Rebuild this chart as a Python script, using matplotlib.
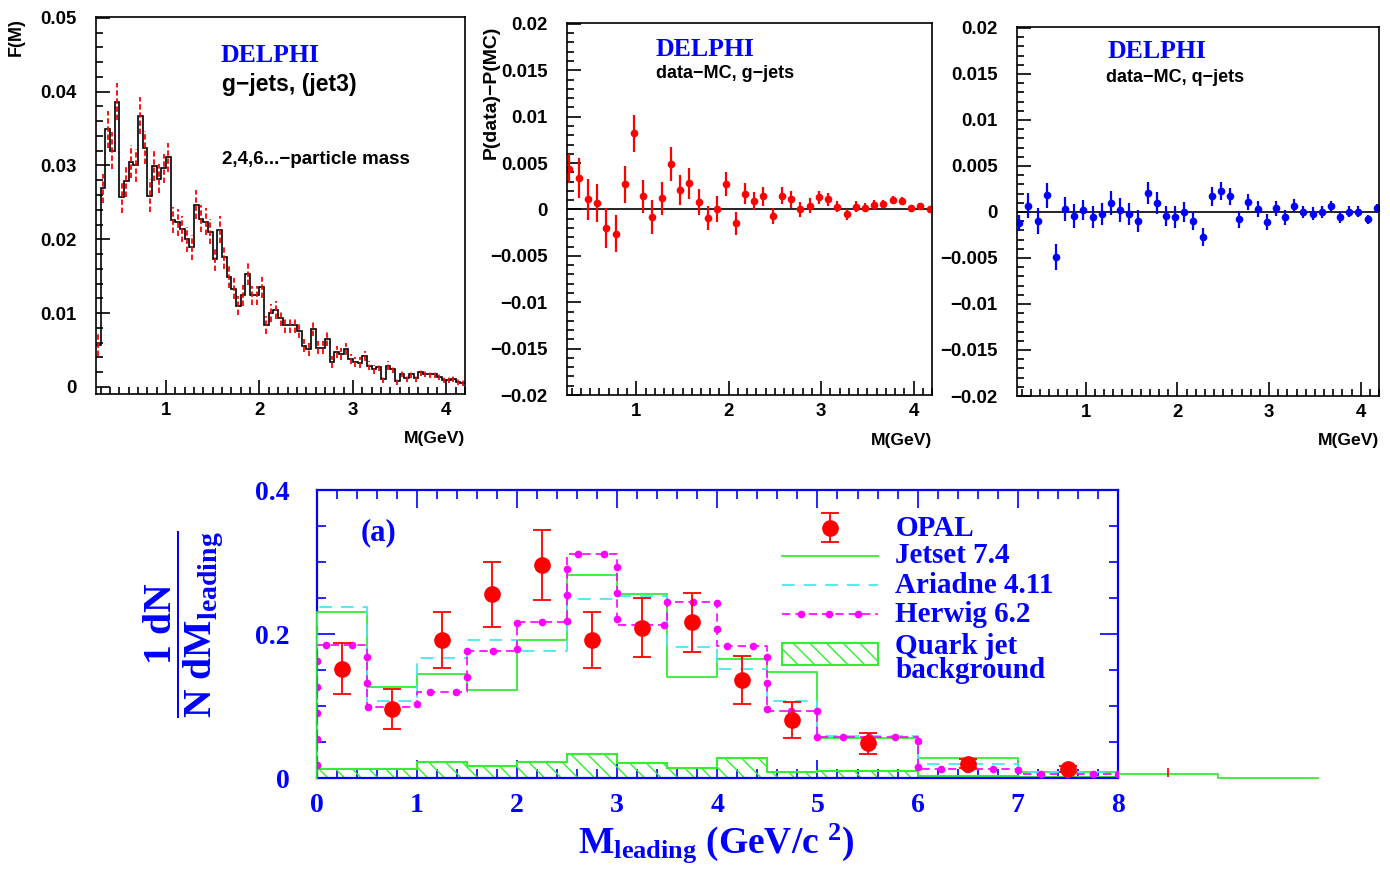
import numpy as np
import matplotlib
matplotlib.use('Agg')
import matplotlib.pyplot as plt
from matplotlib.patches import Rectangle
from matplotlib.ticker import MultipleLocator

plt.rcParams['mathtext.fontset'] = 'custom'
plt.rcParams['mathtext.rm'] = 'Liberation Serif:bold'
plt.rcParams['mathtext.bf'] = 'Liberation Serif:bold'
plt.rcParams['mathtext.it'] = 'Liberation Serif:bold:italic'
plt.rcParams['hatch.linewidth'] = 1.0

RED = '#ff0000'
BLUE = '#0000ff'
GREEN = '#33ee33'
CYAN = '#44e8f0'
MAG = '#ff00ff'
SANS = 'Liberation Sans'
SERIF = 'Liberation Serif'

# DELPHI g-jets (jet3) mass spectrum, 0.05 GeV bins starting at 0.25 GeV
gjet_start = 0.25
gjet_width = 0.05
gjet_f = [0.0057, 0.0269, 0.0349, 0.0320, 0.0386, 0.0257, 0.0279, 0.0305, 0.0300, 0.0367,
          0.0324, 0.0259, 0.0299, 0.0282, 0.0296, 0.0311, 0.0226, 0.0223, 0.0214, 0.0200,
          0.0189, 0.0247, 0.0228, 0.0224, 0.0210, 0.0173, 0.0213, 0.0176, 0.0149, 0.0133,
          0.0110, 0.0124, 0.0153, 0.0124, 0.0124, 0.0135, 0.0084, 0.0100, 0.0104, 0.0093,
          0.0084, 0.0084, 0.0084, 0.0076, 0.0056, 0.0051, 0.0079, 0.0053, 0.0053, 0.0065,
          0.0034, 0.0047, 0.0045, 0.0051, 0.0038, 0.0034, 0.0033, 0.0042, 0.0029, 0.0024,
          0.0027, 0.0011, 0.0029, 0.0024, 0.0008, 0.0018, 0.0012, 0.0017, 0.0012, 0.0020,
          0.0018, 0.0017, 0.0017, 0.0014, 0.0009, 0.0009, 0.0011, 0.0007, 0.0005]
gjet_err = [0.0015, 0.0020, 0.0025, 0.0025, 0.0025, 0.0022, 0.0022, 0.0022, 0.0022, 0.0025,
            0.0022, 0.0022, 0.0020, 0.0020, 0.0020, 0.0020, 0.0018, 0.0018, 0.0018, 0.0017,
            0.0017, 0.0020, 0.0018, 0.0018, 0.0017, 0.0016, 0.0018, 0.0016, 0.0015, 0.0014,
            0.0013, 0.0014, 0.0015, 0.0013, 0.0013, 0.0014, 0.0012, 0.0012, 0.0012, 0.0011,
            0.0011, 0.0011, 0.0011, 0.0010, 0.0009, 0.0009, 0.0010, 0.0009, 0.0009, 0.0009,
            0.0008, 0.0008, 0.0008, 0.0008, 0.0007, 0.0007, 0.0007, 0.0007, 0.0006, 0.0006,
            0.0006, 0.0005, 0.0006, 0.0005, 0.0005, 0.0005, 0.0005, 0.0005, 0.0005, 0.0005,
            0.0005, 0.0005, 0.0005, 0.0004, 0.0004, 0.0004, 0.0004, 0.0004, 0.0004]

# data - MC differences, points every 0.1 GeV
diff_x0 = 0.275
diff_dx = 0.1
gdiff = [0.0044, 0.0034, 0.0011, 0.0007, -0.0020, -0.0026, 0.0027, 0.0082, 0.0014, -0.0008,
         0.0012, 0.0049, 0.0021, 0.0028, 0.0008, -0.0009, 0.0000, 0.0027, -0.0015, 0.0017,
         0.0009, 0.0014, -0.0007, 0.0015, 0.0011, 0.0000, 0.0004, 0.0013, 0.0011, 0.0003,
         -0.0005, 0.0003, 0.0002, 0.0005, 0.0006, 0.0010, 0.0009, 0.0002, 0.0004, 0.0000]
gdiff_err = [0.0016, 0.0022, 0.0022, 0.0020, 0.0022, 0.0020, 0.0020, 0.0020, 0.0018, 0.0018,
             0.0018, 0.0018, 0.0016, 0.0017, 0.0014, 0.0013, 0.0014, 0.0013, 0.0012, 0.0011,
             0.0010, 0.0010, 0.0009, 0.0009, 0.0009, 0.0008, 0.0008, 0.0007, 0.0007, 0.0006,
             0.0006, 0.0006, 0.0005, 0.0005, 0.0004, 0.0004, 0.0004, 0.0003, 0.0003, 0.0003]
qdiff = [-0.0012, 0.0007, -0.0010, 0.0018, -0.0049, 0.0003, -0.0004, 0.0002, -0.0005, -0.0002,
         0.0010, 0.0002, -0.0002, -0.0010, 0.0021, 0.0010, -0.0004, -0.0005, 0.0000, -0.0010,
         -0.0027, 0.0017, 0.0023, 0.0017, -0.0008, 0.0011, 0.0003, -0.0011, 0.0004, -0.0006,
         0.0007, 0.0000, -0.0002, 0.0000, 0.0006, -0.0006, 0.0000, 0.0000, -0.0008, 0.0004]
qdiff_err = [0.0009, 0.0014, 0.0014, 0.0014, 0.0014, 0.0013, 0.0013, 0.0011, 0.0012, 0.0012,
             0.0013, 0.0013, 0.0012, 0.0012, 0.0012, 0.0012, 0.0011, 0.0012, 0.0011, 0.0010,
             0.0010, 0.0010, 0.0010, 0.0009, 0.0009, 0.0009, 0.0009, 0.0009, 0.0008, 0.0008,
             0.0007, 0.0007, 0.0007, 0.0007, 0.0006, 0.0006, 0.0006, 0.0006, 0.0005, 0.0005]

# OPAL leading mass
opal_x = [0.25, 0.75, 1.25, 1.75, 2.25, 2.75, 3.25, 3.75, 4.25, 4.75, 5.5, 6.5, 7.5]
opal_y = [0.152, 0.096, 0.192, 0.255, 0.296, 0.192, 0.209, 0.216, 0.136, 0.080, 0.048, 0.020, 0.012]
opal_err = [0.035, 0.028, 0.039, 0.045, 0.049, 0.039, 0.041, 0.041, 0.033, 0.025, 0.014, 0.006, 0.004]
opal_tail_x = [8.5]
opal_tail_y = [0.008]
opal_tail_err = [0.006]
mc_edges = [0, 0.5, 1, 1.5, 2, 2.5, 3, 3.5, 4, 4.5, 5, 6, 7, 8]
jetset_edges = mc_edges + [9, 10]
jetset = [0.230, 0.126, 0.144, 0.122, 0.191, 0.282, 0.256, 0.140, 0.165, 0.147, 0.055, 0.028, 0.009, 0.006, 0.0005]
ariadne = [0.238, 0.107, 0.166, 0.191, 0.177, 0.248, 0.253, 0.182, 0.152, 0.107, 0.058, 0.020, 0.009]
herwig = [0.185, 0.098, 0.120, 0.177, 0.217, 0.311, 0.213, 0.245, 0.184, 0.093, 0.057, 0.0125, 0.006]
quark = [0.012, 0.012, 0.022, 0.017, 0.022, 0.033, 0.021, 0.014, 0.028, 0.008, 0.010, 0.003, 0.002]

W, H = 1390, 871
fig = plt.figure(figsize=(W / 100, H / 100), dpi=100)


def px_rect(left, top, right, bottom):
    return [left / W, 1 - bottom / H, (right - left) / W, (bottom - top) / H]


def ftext(x, y, s, **kw):
    return fig.text(x / W, 1 - y / H, s, **kw)


def delphi_axes(rect, ylim, yticks, ylabels, yminor):
    ax = fig.add_axes(rect)
    ax.set_xlim(0.25, 4.2)
    ax.set_ylim(*ylim)
    ax.set_xticks([1, 2, 3, 4])
    ax.set_xticklabels(['1', '2', '3', '4'])
    ax.xaxis.set_minor_locator(MultipleLocator(0.1))
    ax.set_yticks(yticks)
    ax.set_yticklabels(ylabels)
    ax.yaxis.set_minor_locator(MultipleLocator(yminor))
    ax.tick_params(which='both', direction='in', top=False, right=False, width=1.2)
    ax.tick_params(which='major', length=10)
    ax.tick_params(which='minor', length=5)
    ax.tick_params(axis='y', pad=14)
    ax.tick_params(axis='x', pad=6)
    for lab in ax.get_xticklabels() + ax.get_yticklabels():
        lab.set_fontfamily(SANS)
        lab.set_fontweight('bold')
        lab.set_fontsize(13.4)
    for sp in ax.spines.values():
        sp.set_linewidth(1.2)
    return ax


# ---- top left: F(M)
ax1 = delphi_axes(px_rect(96, 17, 465, 394), (-0.00095, 0.0501),
                  [0, 0.01, 0.02, 0.03, 0.04, 0.05],
                  ['0', '0.01', '0.02', '0.03', '0.04', '0.05'], 0.002)
edges1 = gjet_start + gjet_width * np.arange(len(gjet_f) + 1)
centers1 = 0.5 * (edges1[:-1] + edges1[1:])
eb = ax1.errorbar(centers1, gjet_f, yerr=gjet_err, fmt='none', ecolor=RED, elinewidth=1.3)
eb[2][0].set_linestyle((0, (3, 1.5)))
ax1.stairs(gjet_f, edges1, baseline=None, color='black', lw=1.2)

ftext(270, 55, 'DELPHI', family=SERIF, weight='bold', size=18.5, color=BLUE, ha='center', va='center')
ftext(222, 85, 'g\u2212jets, (jet3)', family=SANS, weight='bold', size=16.5, color='black',
      ha='left', va='center')
ftext(222, 160, '2,4,6...\u2212particle mass', family=SANS, weight='bold', size=13.5, color='black',
      ha='left', va='center')
ftext(16, 37, 'F(M)', family=SANS, weight='bold', size=13, rotation=90, ha='center', va='center')
ftext(465, 438, 'M(GeV)', family=SANS, weight='bold', size=12.6, ha='right', va='center')

# ---- top middle / right: data - MC
dticks = [-0.02, -0.015, -0.01, -0.005, 0, 0.005, 0.01, 0.015, 0.02]
dlabels = ['\u22120.02', '\u22120.015', '\u22120.01', '\u22120.005', '0', '0.005', '0.01', '0.015', '0.02']
xd = diff_x0 + diff_dx * np.arange(len(gdiff))

ax2 = delphi_axes(px_rect(567, 23, 932, 395), (-0.02, 0.0201), dticks, dlabels, 0.001)
ax2.axhline(0, color='black', lw=1.2)
ax2.errorbar(xd, gdiff, yerr=gdiff_err, fmt='o', color=RED, ms=4.5, elinewidth=1.6)
ftext(656, 49, 'DELPHI', family=SERIF, weight='bold', size=18.5, color=BLUE, ha='left', va='center')
ftext(656, 74, 'data\u2212MC, g\u2212jets', family=SANS, weight='bold', size=13, ha='left', va='center')
ftext(491, 92, 'P(data)\u2212P(MC)', family=SANS, weight='bold', size=14, rotation=90, ha='center', va='center')
ftext(932, 440, 'M(GeV)', family=SANS, weight='bold', size=12.6, ha='right', va='center')

ax3 = delphi_axes(px_rect(1017, 27, 1379, 396), (-0.02, 0.0201), dticks, dlabels, 0.001)
ax3.axhline(0, color='black', lw=1.2)
ax3.errorbar(xd, qdiff, yerr=qdiff_err, fmt='o', color=BLUE, ms=4.5, elinewidth=1.6)
ftext(1108, 52, 'DELPHI', family=SERIF, weight='bold', size=18.5, color=BLUE, ha='left', va='center')
ftext(1106, 77, 'data\u2212MC, q\u2212jets', family=SANS, weight='bold', size=13, ha='left', va='center')
ftext(1379, 440, 'M(GeV)', family=SANS, weight='bold', size=12.6, ha='right', va='center')

# ---- bottom: OPAL leading mass
ax4 = fig.add_axes(px_rect(316.5, 490, 1118, 778))
ax4.set_xlim(0, 8)
ax4.set_ylim(0, 0.4)
ax4.set_xticks(range(9))
ax4.set_yticks([0, 0.2, 0.4])
ax4.set_yticklabels(['0', '0.2', '0.4'])
ax4.xaxis.set_minor_locator(MultipleLocator(0.2))
ax4.yaxis.set_minor_locator(MultipleLocator(0.05))
ax4.tick_params(which='both', direction='in', top=True, right=True, color=BLUE, width=1.2,
                labelcolor=BLUE)
ax4.tick_params(which='major', length=13)
ax4.tick_params(which='minor', length=6.5)
ax4.tick_params(axis='y', pad=19)
ax4.tick_params(axis='x', pad=11)
for lab in ax4.get_xticklabels() + ax4.get_yticklabels():
    lab.set_fontfamily(SERIF)
    lab.set_fontweight('bold')
    lab.set_fontsize(20)
for sp in ax4.spines.values():
    sp.set_color(BLUE)
    sp.set_linewidth(1.6)


def step_path(edges, vals):
    xs = np.repeat(edges, 2)
    ys = np.concatenate([[0], np.repeat(vals, 2), [0]])
    return xs, ys


def dots_along(ax, xs, ys, spacing):
    pts = ax.transData.transform(np.column_stack([xs, ys]))
    seg = np.hypot(*np.diff(pts, axis=0).T)
    keep = np.concatenate([[True], seg > 1e-9])
    pts = pts[keep]
    cum = np.concatenate([[0], np.cumsum(np.hypot(*np.diff(pts, axis=0).T))])
    s = np.arange(spacing * 0.5, cum[-1], spacing)
    p = np.column_stack([np.interp(s, cum, pts[:, 0]), np.interp(s, cum, pts[:, 1])])
    return ax.transData.inverted().transform(p)


ax4.stairs(quark, mc_edges, baseline=0, fill=True, facecolor='none', edgecolor=GREEN,
           hatch='\\\\', lw=1.5, zorder=2)
xs, ys = step_path(jetset_edges, jetset)
ax4.plot(xs, ys, color=GREEN, lw=1.3, clip_on=False, zorder=3)
xs, ys = step_path(mc_edges, ariadne)
ax4.plot(xs, ys, color=CYAN, lw=1.3, ls=(0, (7, 5)), zorder=3)
xs, ys = step_path(mc_edges, herwig)
ax4.plot(xs, ys, color=MAG, lw=1.2, ls=(0, (5, 3)), zorder=4)
hd = dots_along(ax4, xs, ys, 26)
ax4.plot(hd[:, 0], hd[:, 1], 'o', color=MAG, ms=4.5, ls='none', zorder=4)
ax4.errorbar(opal_x, opal_y, yerr=opal_err, fmt='o', color=RED, ms=11, elinewidth=1.3,
             capsize=6.5, capthick=1.3, zorder=5)
ax4.errorbar(opal_tail_x, opal_tail_y, yerr=opal_tail_err, fmt='none', ecolor=RED,
             elinewidth=1.2, clip_on=False, zorder=5)

# legend drawn in axes fraction
T = ax4.transAxes
ax4.plot([0.6407], [0.868], 'o', color=RED, ms=11, transform=T, zorder=6)
ax4.plot([0.6407, 0.6407], [0.819, 0.920], color=RED, lw=1.3, transform=T, zorder=6)
ax4.plot([0.6407, 0.6407], [0.819, 0.920], '_', color=RED, ms=13, mew=1.3, transform=T, zorder=6)
ax4.plot([0.581, 0.700], [0.771, 0.771], color=GREEN, lw=1.3, transform=T)
ax4.plot([0.581, 0.700], [0.670, 0.670], color=CYAN, lw=1.3, ls=(0, (7, 5)), transform=T)
ax4.plot([0.581, 0.700], [0.569, 0.569], color=MAG, lw=1.2, ls=(0, (5, 3)), transform=T)
ax4.plot([0.605, 0.640, 0.675], [0.569] * 3, 'o', color=MAG, ms=4.5, transform=T)
ax4.add_patch(Rectangle((0.581, 0.392), 0.119, 0.078, transform=T, facecolor='none',
                        edgecolor=GREEN, hatch='\\\\', lw=1.5))
legend_names = ['OPAL', 'Jetset 7.4', 'Ariadne 4.11', 'Herwig 6.2', 'Quark jet', 'background']
legend_y = [0.868, 0.771, 0.670, 0.569, 0.458, 0.372]
for name, y in zip(legend_names, legend_y):
    ax4.text(0.722, y, name, transform=T, family=SERIF, weight='bold', size=21, color=BLUE,
             ha='left', va='center')

ftext(378, 533, '(a)', family=SERIF, weight='bold', size=22, color=BLUE, ha='center', va='center')
ftext(183, 624, r'$\dfrac{\mathrm{1\ dN}}{\mathrm{N\ dM_{leading}}}$', size=28.5, color=BLUE,
      rotation=90, ha='center', va='center')
ftext(716, 843, r'$\mathrm{M_{leading}}$ (GeV/c $^{\mathrm{2}}$)', family=SERIF, weight='bold',
      size=27, color=BLUE, ha='center', va='center')

fig.savefig('out.png', dpi=100)
